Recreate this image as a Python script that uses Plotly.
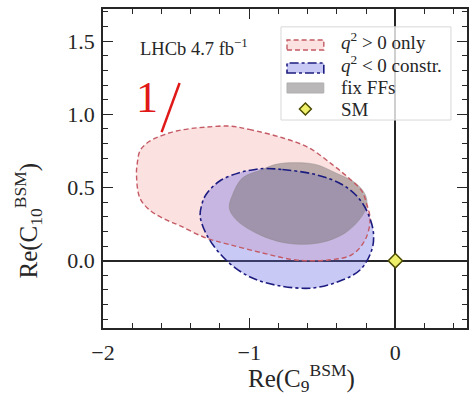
import plotly.graph_objects as go

# Contour boundaries (Re C9, Re C10) traced around each confidence region
pos_q2_c9 = [-1.136, -1.00, -0.773, -0.592, -0.433, -0.320, -0.229, -0.195, -0.173, -0.206,
             -0.297, -0.456, -0.683, -0.909, -1.136, -1.295, -1.476, -1.58, -1.68, -1.748,
             -1.771, -1.765, -1.748, -1.71, -1.658, -1.58, -1.499, -1.40, -1.295]
pos_q2_c10 = [0.920, 0.897, 0.840, 0.772, 0.658, 0.566, 0.475, 0.384, 0.281, 0.144,
              0.041, 0.005, 0.005, 0.053, 0.110, 0.155, 0.240, 0.285, 0.345, 0.429,
              0.589, 0.670, 0.749, 0.795, 0.829, 0.862, 0.886, 0.903, 0.913]

neg_q2_c9 = [-0.886, -0.773, -0.547, -0.365, -0.252, -0.184, -0.150, -0.161, -0.240, -0.388,
             -0.569, -0.796, -0.978, -1.136, -1.272, -1.335, -1.325, -1.295, -1.204, -1.068, -0.95]
neg_q2_c10 = [0.630, 0.623, 0.589, 0.521, 0.429, 0.315, 0.190, 0.075, -0.062, -0.142,
              -0.187, -0.171, -0.119, -0.016, 0.144, 0.300, 0.380, 0.452, 0.543, 0.601, 0.625]

fixff_c9 = [-0.728, -0.547, -0.411, -0.275, -0.206, -0.195, -0.229, -0.343, -0.524, -0.751,
            -0.955, -1.090, -1.136, -1.113, -1.045, -0.909, -0.83]
fixff_c10 = [0.669, 0.658, 0.601, 0.532, 0.452, 0.380, 0.303, 0.190, 0.121, 0.121,
             0.190, 0.281, 0.360, 0.452, 0.566, 0.623, 0.655]

sm_c9 = [0.0]
sm_c10 = [0.0]

series_names = ["<i>q</i><sup>2</sup> &gt; 0 only",
                "<i>q</i><sup>2</sup> &lt; 0 constr.",
                "fix FFs",
                "SM"]


def closed(xs, ys):
    return xs + xs[:1], ys + ys[:1]


SERIF = "Liberation Serif"
INK = "#262626"

PINK_FILL = "rgba(245,170,170,0.35)"
PINK_LINE = dict(color="#c45a64", width=1.4, dash="5px,3px")
BLUE_FILL = "rgba(100,100,230,0.35)"
BLUE_LINE = dict(color="#1c1c80", width=1.6, dash="dashdot")
GREY_FILL = "rgba(120,115,115,0.5)"
SM_FILL, SM_EDGE = "#eef06a", "#4a4a00"

fig = go.Figure()

px_, py_ = closed(pos_q2_c9, pos_q2_c10)
nx_, ny_ = closed(neg_q2_c9, neg_q2_c10)
fx_, fy_ = closed(fixff_c9, fixff_c10)
smooth = dict(shape="spline", smoothing=1.0)

# filled regions
fig.add_trace(go.Scatter(x=px_, y=py_, mode="lines", fill="toself", name=series_names[0],
                         fillcolor=PINK_FILL, line=dict(width=0, **smooth), showlegend=False))
fig.add_trace(go.Scatter(x=nx_, y=ny_, mode="lines", fill="toself", name=series_names[1],
                         fillcolor=BLUE_FILL, line=dict(width=0, **smooth), showlegend=False))
fig.add_trace(go.Scatter(x=fx_, y=fy_, mode="lines", fill="toself", name=series_names[2],
                         fillcolor=GREY_FILL,
                         line=dict(color="rgba(140,135,135,0.6)", width=0.8, **smooth),
                         showlegend=False))
# outlines on top of the fills
fig.add_trace(go.Scatter(x=px_, y=py_, mode="lines", showlegend=False, hoverinfo="skip",
                         line=dict(**PINK_LINE, **smooth)))
fig.add_trace(go.Scatter(x=nx_, y=ny_, mode="lines", showlegend=False, hoverinfo="skip",
                         line=dict(**BLUE_LINE, **smooth)))

fig.add_trace(go.Scatter(
    x=sm_c9, y=sm_c10, mode="markers", name=series_names[3], showlegend=False,
    marker=dict(symbol="diamond", size=11, color=SM_FILL, line=dict(color=SM_EDGE, width=1.5)),
))

axis_common = dict(
    showline=True, linecolor=INK, linewidth=1.5, mirror="ticks",
    ticks="inside", ticklen=10, tickwidth=1.3, tickcolor=INK,
    showgrid=False, zeroline=True, zerolinecolor=INK, zerolinewidth=1.5,
    tickfont=dict(family=SERIF, size=22, color=INK),
)

fig.update_xaxes(
    range=[-2, 0.49], tick0=-2, dtick=1, ticklabelstandoff=4,
    minor=dict(ticks="inside", ticklen=5, tickwidth=1.1, tickcolor=INK, dtick=0.2, tick0=-2, showgrid=False),
    **axis_common,
)
fig.update_yaxes(
    range=[-0.46, 1.72], tick0=0, dtick=0.5, tickformat=".1f", ticklabelstandoff=2,
    minor=dict(ticks="inside", ticklen=5, tickwidth=1.1, tickcolor=INK, dtick=0.1, tick0=0, showgrid=False),
    **axis_common,
)

# axis titles
fig.add_annotation(
    xref="paper", yref="paper", x=0.393, y=-0.157, xanchor="left", yanchor="middle",
    text="Re(C<sub>9</sub><sup>BSM</sup>)", showarrow=False,
    font=dict(family=SERIF, size=25, color=INK),
)
fig.add_annotation(
    xref="paper", yref="paper", x=-0.205, y=0.15, xanchor="center", yanchor="bottom",
    text="Re(C<sub>10</sub><sup>BSM</sup>)", showarrow=False, textangle=-90,
    font=dict(family=SERIF, size=25, color=INK),
)
fig.add_annotation(
    xref="paper", yref="paper", x=0.0956, y=0.881, xanchor="left", yanchor="middle",
    text="LHCb 4.7 fb<sup>−1</sup>", showarrow=False,
    font=dict(family=SERIF, size=18.5, color=INK),
)
# red hand mark
fig.add_annotation(
    xref="paper", yref="paper", x=0.120, y=0.722, xanchor="center", yanchor="middle",
    text="1", showarrow=False,
    font=dict(family=SERIF, size=44, color="#e01818"),
)
fig.add_shape(
    type="line", xref="paper", yref="paper", x0=0.161, y0=0.614, x1=0.2104, y1=0.768,
    line=dict(color="#e01818", width=2.5),
)

# legend panel
LEG_X0, LEG_X1, LEG_Y0, LEG_Y1 = 0.489, 0.956, 0.652, 0.944
SW_X0, SW_X1, SW_H = 0.5055, 0.6066, 0.0157
TXT_X = 0.6475
ROW_Y = [0.8871, 0.8150, 0.7524, 0.6865]
# labels carrying a superscript sit lower when centred, so nudge them up
TXT_NUDGE = [0.012, 0.012, 0.0, 0.0]

fig.add_shape(type="rect", xref="paper", yref="paper", layer="above",
              x0=LEG_X0, x1=LEG_X1, y0=LEG_Y0, y1=LEG_Y1,
              fillcolor="rgba(255,255,255,0.78)", line=dict(color="#d8d8d8", width=1))
swatches = [
    dict(fillcolor=PINK_FILL, line=PINK_LINE),
    dict(fillcolor=BLUE_FILL, line=BLUE_LINE),
    dict(fillcolor="#b9b7b7", line=dict(color="#b0aeae", width=1)),
]
for sw, ry in zip(swatches, ROW_Y[:3]):
    fig.add_shape(type="rect", xref="paper", yref="paper", layer="above",
                  x0=SW_X0, x1=SW_X1, y0=ry - SW_H, y1=ry + SW_H, **sw)
cx, cy = (SW_X0 + SW_X1) / 2, ROW_Y[3]
dx, dy = 6 / 366, 6 / 319
fig.add_shape(type="path", xref="paper", yref="paper", layer="above",
              path=f"M{cx-dx},{cy} L{cx},{cy+dy} L{cx+dx},{cy} L{cx},{cy-dy} Z",
              fillcolor=SM_FILL, line=dict(color=SM_EDGE, width=1.5))
for name, ry, nudge in zip(series_names, ROW_Y, TXT_NUDGE):
    fig.add_annotation(xref="paper", yref="paper", x=TXT_X, y=ry + nudge, xanchor="left",
                       yanchor="middle", text=name, showarrow=False,
                       font=dict(family=SERIF, size=19, color=INK))

fig.update_layout(
    width=469, height=395,
    margin=dict(l=103, r=0, t=9, b=67),
    paper_bgcolor="white", plot_bgcolor="white",
    font=dict(family=SERIF, color=INK),
    showlegend=False,
)

fig.write_html("out.html")
